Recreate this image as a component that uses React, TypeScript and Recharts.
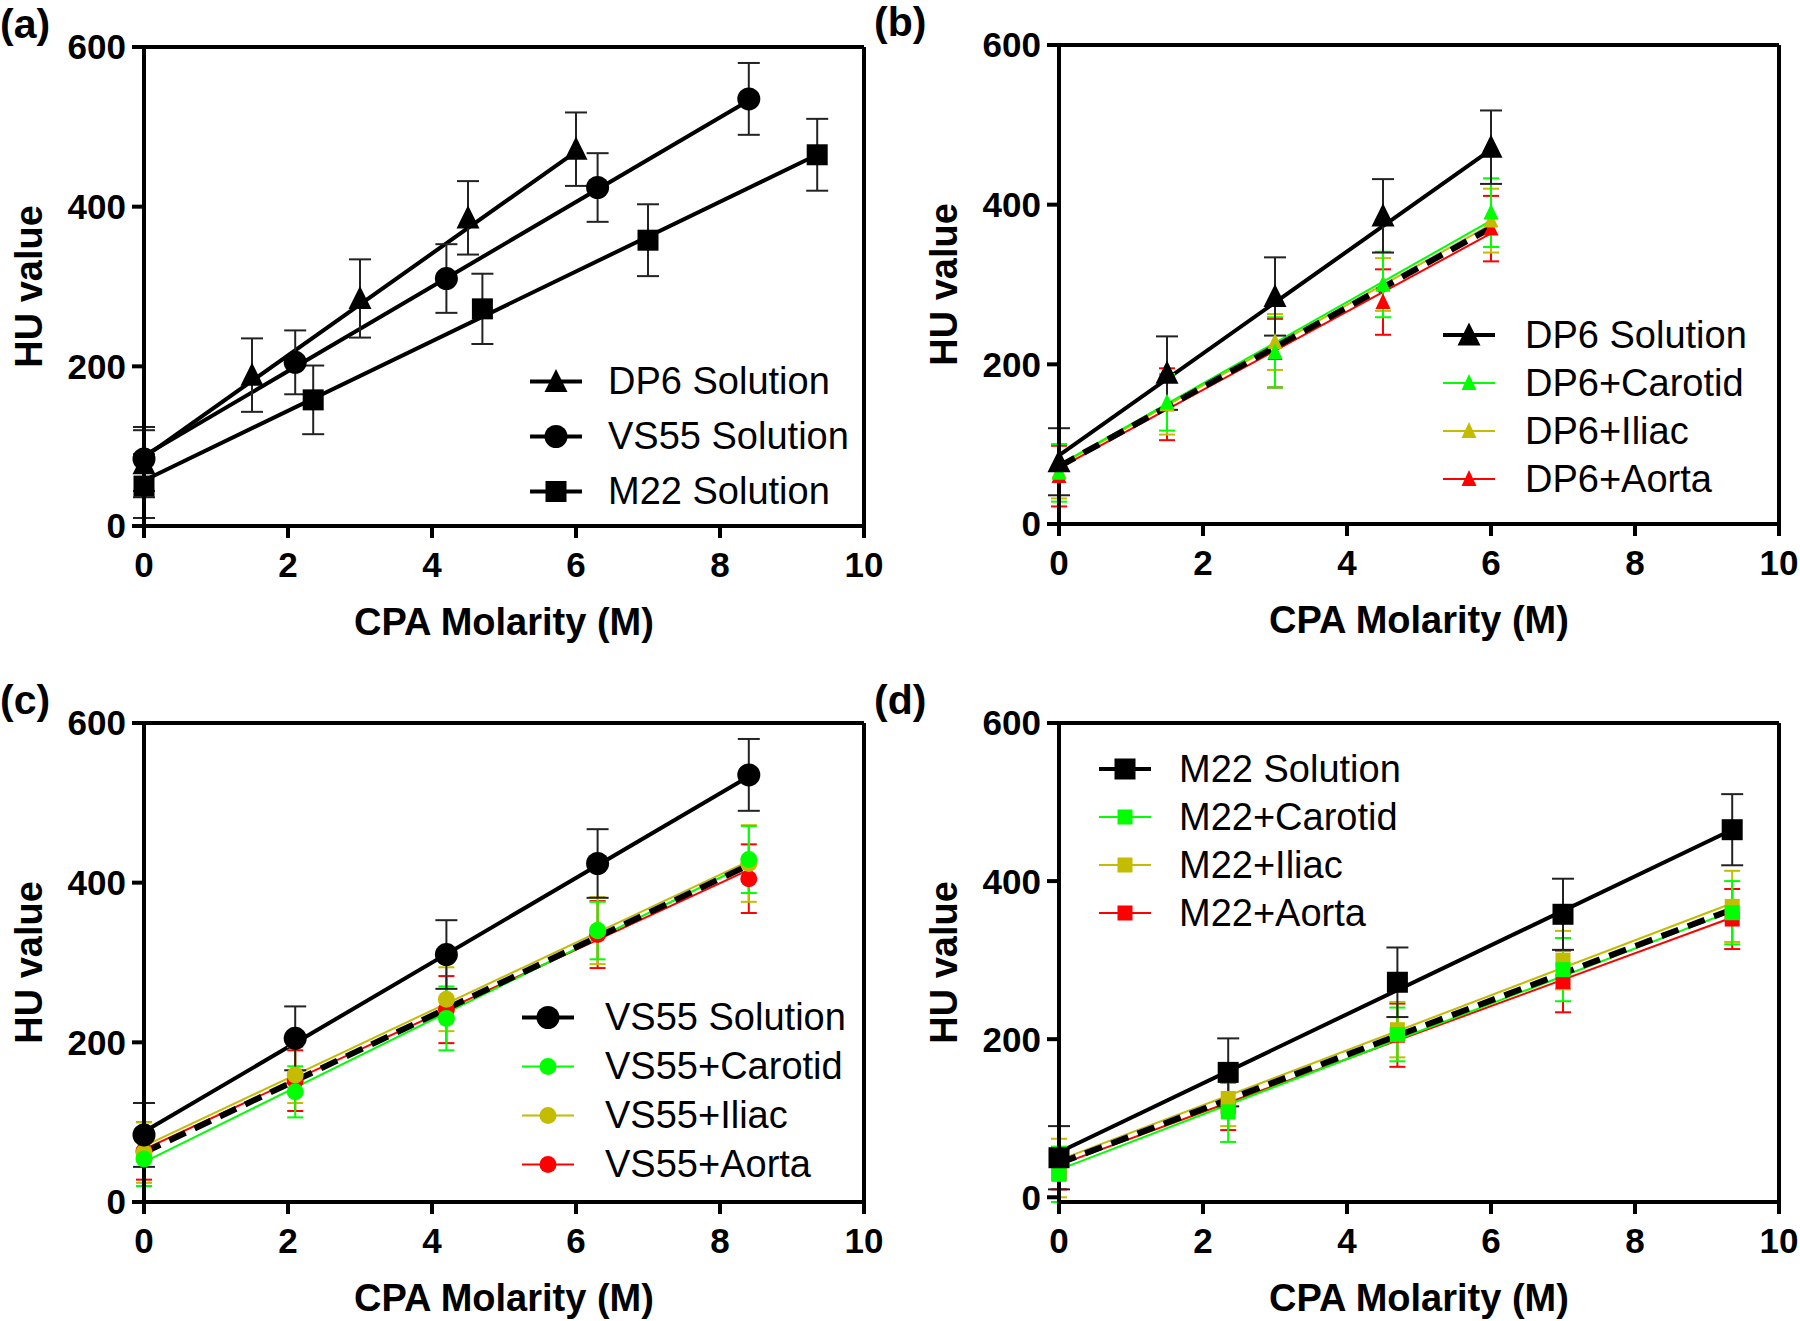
import React from "react";
import {
  ComposedChart,
  XAxis,
  YAxis,
  Scatter,
  Line,
  ErrorBar,
  ReferenceLine,
  Label,
  Legend,
} from "recharts";

const GREEN = "#00ff00";
const OLIVE = "#c4bc00";
const RED = "#ff0000";
const BLACK = "#000000";
const FONT = "'Liberation Sans', Arial, Helvetica, sans-serif";

const X_TICKS = [0, 2, 4, 6, 8, 10];
const Y_TICKS = [0, 200, 400, 600];

// CPA molarity of each dilution
const DP6_X = [0, 1.5, 3, 4.5, 6];
const VS55_X = [0, 2.1, 4.2, 6.3, 8.4];
const M22_X = [0, 2.35, 4.7, 7.0, 9.35];

// HU values (mean and SD)
const DP6_SOLUTION = [78, 189, 285, 386, 472];
const DP6_SOLUTION_SD = [42, 46, 49, 46, 46];
const DP6_CAROTID = [64, 152, 215, 300, 390];
const DP6_CAROTID_SD = [36, 35, 44, 41, 43];
const DP6_ILIAC = [66, 150, 228, 300, 380];
const DP6_ILIAC_SD = [34, 38, 35, 33, 40];
const DP6_AORTA = [60, 150, 214, 278, 370];
const DP6_AORTA_SD = [38, 45, 43, 41, 41];

const VS55_SOLUTION = [84, 205, 310, 424, 535];
const VS55_SOLUTION_SD = [40, 40, 43, 43, 45];
const VS55_CAROTID = [54, 138, 230, 340, 429];
const VS55_CAROTID_SD = [34, 32, 40, 36, 42];
const VS55_ILIAC = [62, 159, 254, 340, 424];
const VS55_ILIAC_SD = [38, 35, 40, 42, 48];
const VS55_AORTA = [64, 152, 241, 335, 405];
const VS55_AORTA_SD = [36, 38, 42, 42, 43];

const M22_SOLUTION = [50, 158, 272, 358, 465];
const M22_SOLUTION_SD = [40, 43, 44, 45, 45];
const M22_CAROTID = [29, 108, 206, 288, 360];
const M22_CAROTID_SD = [35, 38, 34, 40, 40];
const M22_ILIAC = [37, 125, 212, 300, 368];
const M22_ILIAC_SD = [37, 35, 35, 37, 45];
const M22_AORTA = [30, 115, 205, 273, 352];
const M22_AORTA_SD = [20, 30, 40, 39, 38];

// regression lines: value at first and last molarity
const DP6_SOLUTION_FIT = [86, 469];
const DP6_CAROTID_FIT = [74, 380];
const DP6_ILIAC_FIT = [73, 375];
const DP6_AORTA_FIT = [70, 364];
const DP6_TISSUE_FIT = [72, 371];

const VS55_SOLUTION_FIT = [88, 533];
const VS55_CAROTID_FIT = [50, 424];
const VS55_ILIAC_FIT = [70, 427];
const VS55_AORTA_FIT = [66, 416];
const VS55_TISSUE_FIT = [62, 422];

const M22_SOLUTION_FIT = [57, 465];
const M22_CAROTID_FIT = [35, 362];
const M22_ILIAC_FIT = [47, 372];
const M22_AORTA_FIT = [41, 354];
const M22_TISSUE_FIT = [43, 364];

type Kind = "triangle" | "circle" | "square";

const pts = (xs: number[], ys: number[], sd: number[]) =>
  xs.map((x, i) => ({ x, y: ys[i], e: sd[i] }));
const ends = (xs: number[], f: number[]) => [
  { x: xs[0], y: f[0] },
  { x: xs[xs.length - 1], y: f[1] },
];

function Marker({ cx, cy, kind, size, color }: any) {
  if (cx == null || cy == null) return null;
  const r = size / 2;
  if (kind === "circle") return <circle cx={cx} cy={cy} r={r} fill={color} />;
  if (kind === "square")
    return <rect x={cx - r} y={cy - r} width={size} height={size} fill={color} />;
  const h = size * 0.92;
  return (
    <polygon
      points={`${cx},${cy - h / 2 - 2} ${cx - r},${cy + h / 2} ${cx + r},${cy + h / 2}`}
      fill={color}
    />
  );
}

interface Series {
  name: string;
  color: string;
  kind: Kind;
  size: number;
  data: { x: number; y: number; e: number }[];
  fit: { x: number; y: number }[];
  lineWidth: number;
  cap: number;
  barWidth: number;
}

const solution = (name: string, kind: Kind, size: number, xs: number[], ys: number[], sd: number[], fit: number[]): Series => ({
  name, color: BLACK, kind, size, data: pts(xs, ys, sd), fit: ends(xs, fit), lineWidth: 4, cap: 11, barWidth: 2,
});
const tissue = (name: string, color: string, kind: Kind, xs: number[], ys: number[], sd: number[], fit: number[]): Series => ({
  name, color, kind, size: kind === "circle" ? 17 : 15, data: pts(xs, ys, sd), fit: ends(xs, fit), lineWidth: 2, cap: 8, barWidth: 2,
});

interface PanelProps {
  left: number;
  top: number;
  plotLeft: number;
  plotTop: number;
  tag: string;
  series: Series[]; // drawing order
  legendOrder: Series[];
  pooled?: { x: number; y: number }[];
  legend: { left: number; top: number; row: number; gap: number };
}

function LegendBox({ items, row, gap }: { items: Series[]; row: number; gap: number }) {
  return (
    <div>
      {items.map((s) => (
        <div key={s.name} style={{ display: "flex", alignItems: "center", height: row }}>
          <svg width={56} height={row} style={{ flex: "none" }}>
            <line x1={2} x2={54} y1={row / 2} y2={row / 2} stroke={s.color} strokeWidth={s.lineWidth} />
            <Marker cx={28} cy={row / 2} kind={s.kind} size={s.size} color={s.color} />
          </svg>
          <span
            style={{
              marginLeft: gap,
              fontFamily: FONT,
              fontSize: 38,
              color: "#000",
              whiteSpace: "nowrap",
              lineHeight: `${row}px`,
            }}
          >
            {s.name}
          </span>
        </div>
      ))}
    </div>
  );
}

function Panel({ left, top, plotLeft, plotTop, tag, series, legendOrder, pooled, legend }: PanelProps) {
  const W = 900;
  const H = 660;
  const plotW = 720;
  const plotH = 479;
  const xAxisH = 60;
  const margin = {
    top: plotTop,
    left: 0,
    right: W - plotLeft - plotW,
    bottom: H - plotTop - plotH - xAxisH,
  };
  const tickStyle = { fill: "#000", fontSize: 35, fontWeight: 700, fontFamily: FONT };
  return (
    <div style={{ position: "absolute", left, top, width: W, height: H }}>
      <div
        style={{
          position: "absolute",
          left: tag === "(a)" || tag === "(c)" ? 0 : -26,
          top: plotTop - 46,
          fontFamily: FONT,
          fontWeight: 700,
          fontSize: 41,
          lineHeight: "46px",
        }}
      >
        {tag}
      </div>
      <ComposedChart width={W} height={H} margin={margin}>
        <XAxis
          type="number"
          dataKey="x"
          domain={[0, 10]}
          ticks={X_TICKS}
          interval={0}
          height={xAxisH}
          axisLine={{ stroke: "#000", strokeWidth: 4 }}
          tickLine={{ stroke: "#000", strokeWidth: 4 }}
          tickSize={12}
          tickMargin={14}
          tick={tickStyle}
        >
          <Label
            content={({ viewBox }: any) => (
              <text
                x={viewBox.x + viewBox.width / 2}
                y={viewBox.y + 96}
                textAnchor="middle"
                dominantBaseline="central"
                fontFamily={FONT}
                fontWeight={700}
                fontSize={38}
                fill="#000"
              >
                CPA Molarity (M)
              </text>
            )}
          />
        </XAxis>
        <YAxis
          type="number"
          domain={[0, 600]}
          ticks={Y_TICKS}
          interval={0}
          width={plotLeft}
          axisLine={{ stroke: "#000", strokeWidth: 4 }}
          tickLine={{ stroke: "#000", strokeWidth: 4 }}
          tickSize={12}
          tickMargin={6}
          tick={tickStyle}
        >
          <Label
            content={({ viewBox }: any) => {
              const cx = viewBox.x + viewBox.width - 115;
              const cy = viewBox.y + viewBox.height / 2;
              return (
                <text
                  x={cx}
                  y={cy}
                  transform={`rotate(-90, ${cx}, ${cy})`}
                  textAnchor="middle"
                  dominantBaseline="central"
                  fontFamily={FONT}
                  fontWeight={700}
                  fontSize={38}
                  fill="#000"
                >
                  HU value
                </text>
              );
            }}
          />
        </YAxis>
        <ReferenceLine y={600} stroke="#000" strokeWidth={4} />
        <ReferenceLine x={10} stroke="#000" strokeWidth={4} />

        {series.map((s) => (
          <Line
            key={s.name + "-fit"}
            data={s.fit}
            dataKey="y"
            stroke={s.color}
            strokeWidth={s.lineWidth}
            dot={false}
            activeDot={false}
            legendType="none"
            isAnimationActive={false}
          />
        ))}
        {pooled && (
          <Line
            data={pooled}
            dataKey="y"
            stroke="#000"
            strokeWidth={6}
            strokeDasharray="18 10"
            dot={false}
            activeDot={false}
            legendType="none"
            isAnimationActive={false}
          />
        )}
        {series.map((s) => (
          <Scatter
            key={s.name}
            name={s.name}
            data={s.data}
            dataKey="y"
            isAnimationActive={false}
            shape={(p: any) => <Marker cx={p.cx} cy={p.cy} kind={s.kind} size={s.size} color={s.color} />}
          >
            <ErrorBar
              dataKey="e"
              direction="y"
              width={s.cap}
              stroke={s.color === BLACK ? "#222" : s.color}
              strokeWidth={s.barWidth}
              isAnimationActive={false}
            />
          </Scatter>
        ))}
        <Legend
          layout="vertical"
          align="center"
          verticalAlign="middle"
          wrapperStyle={{ left: legend.left, top: legend.top, width: 380 }}
          content={() => <LegendBox items={legendOrder} row={legend.row} gap={legend.gap} />}
        />
      </ComposedChart>
    </div>
  );
}

export default function App() {
  const dp6Sol = solution("DP6 Solution", "triangle", 23, DP6_X, DP6_SOLUTION, DP6_SOLUTION_SD, DP6_SOLUTION_FIT);
  const vs55Sol = solution("VS55 Solution", "circle", 23, VS55_X, VS55_SOLUTION, VS55_SOLUTION_SD, VS55_SOLUTION_FIT);
  const m22Sol = solution("M22 Solution", "square", 21, M22_X, M22_SOLUTION, M22_SOLUTION_SD, M22_SOLUTION_FIT);

  const dp6 = [
    tissue("DP6+Carotid", GREEN, "triangle", DP6_X, DP6_CAROTID, DP6_CAROTID_SD, DP6_CAROTID_FIT),
    tissue("DP6+Iliac", OLIVE, "triangle", DP6_X, DP6_ILIAC, DP6_ILIAC_SD, DP6_ILIAC_FIT),
    tissue("DP6+Aorta", RED, "triangle", DP6_X, DP6_AORTA, DP6_AORTA_SD, DP6_AORTA_FIT),
  ];
  const vs55 = [
    tissue("VS55+Carotid", GREEN, "circle", VS55_X, VS55_CAROTID, VS55_CAROTID_SD, VS55_CAROTID_FIT),
    tissue("VS55+Iliac", OLIVE, "circle", VS55_X, VS55_ILIAC, VS55_ILIAC_SD, VS55_ILIAC_FIT),
    tissue("VS55+Aorta", RED, "circle", VS55_X, VS55_AORTA, VS55_AORTA_SD, VS55_AORTA_FIT),
  ];
  const m22 = [
    tissue("M22+Carotid", GREEN, "square", M22_X, M22_CAROTID, M22_CAROTID_SD, M22_CAROTID_FIT),
    tissue("M22+Iliac", OLIVE, "square", M22_X, M22_ILIAC, M22_ILIAC_SD, M22_ILIAC_FIT),
    tissue("M22+Aorta", RED, "square", M22_X, M22_AORTA, M22_AORTA_SD, M22_AORTA_FIT),
  ];
  // red, olive, green underneath, the solution on top
  const order = (t: Series[]) => [t[2], t[1], t[0]];

  return (
    <div style={{ position: "absolute", left: 0, top: 0, width: 1800, height: 1321, background: "#fff" }}>
      <Panel
        left={0}
        top={0}
        plotLeft={144}
        plotTop={47}
        tag="(a)"
        series={[m22Sol, vs55Sol, dp6Sol]}
        legendOrder={[dp6Sol, vs55Sol, m22Sol]}
        legend={{ left: 528, top: 354, row: 55, gap: 24 }}
      />
      <Panel
        left={900}
        top={0}
        plotLeft={159}
        plotTop={45}
        tag="(b)"
        series={[...order(dp6), dp6Sol]}
        legendOrder={[dp6Sol, ...dp6]}
        pooled={ends(DP6_X, DP6_TISSUE_FIT)}
        legend={{ left: 541, top: 311, row: 48, gap: 28 }}
      />
      <Panel
        left={0}
        top={660}
        plotLeft={144}
        plotTop={63}
        tag="(c)"
        series={[...order(vs55), vs55Sol]}
        legendOrder={[vs55Sol, ...vs55]}
        pooled={ends(VS55_X, VS55_TISSUE_FIT)}
        legend={{ left: 520, top: 333, row: 49, gap: 29 }}
      />
      <Panel
        left={900}
        top={660}
        plotLeft={159}
        plotTop={63}
        tag="(d)"
        series={[...order(m22), m22Sol]}
        legendOrder={[m22Sol, ...m22]}
        pooled={ends(M22_X, M22_TISSUE_FIT)}
        legend={{ left: 197, top: 85, row: 48, gap: 26 }}
      />
    </div>
  );
}
